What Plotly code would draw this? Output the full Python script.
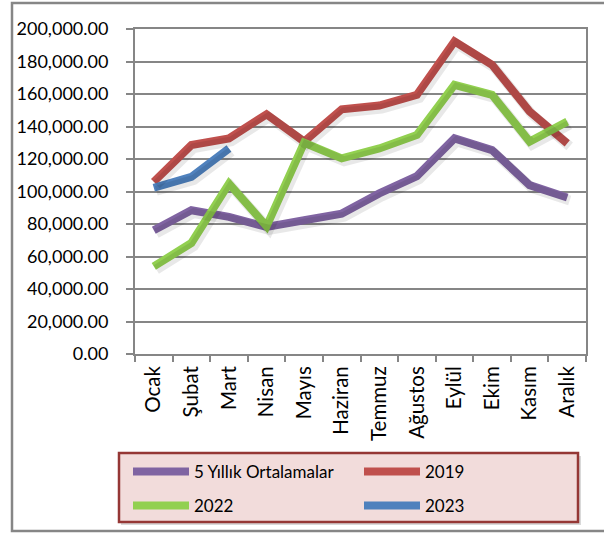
import plotly.graph_objects as go

months = ["Ocak", "Şubat", "Mart", "Nisan", "Mayıs", "Haziran", "Temmuz",
          "Ağustos", "Eylül", "Ekim", "Kasım", "Aralık"]
avg5 = [76100, 88500, 84400, 78200, 82300, 86400, 98800, 109500, 132700, 125500, 103900, 96300]
y2019 = [106000, 128600, 132700, 147500, 130700, 150600, 152900, 159500, 192400, 178000, 149200, 129600]
y2022 = [53900, 68300, 104900, 78600, 130000, 120400, 126500, 134800, 165600, 159500, 130700, 143000]
y2023 = [102300, 109000, 126500]
yticks = [0, 20000, 40000, 60000, 80000, 100000, 120000, 140000, 160000, 180000, 200000]

series = [
    ("5 Yıllık Ortalamalar", avg5, "#8064A2", "legend"),
    ("2019", y2019, "#C0504D", "legend"),
    ("2022", y2022, "#92D050", "legend2"),
    ("2023", y2023, "#4F81BD", "legend2"),
]

W, H = 604, 534
L, R, T, B = 135, 18, 29, 180
pw, ph = W - L - R, H - T - B

FONT = "Lato"
fig = go.Figure()

# soft drop shadows on an overlay axis pair shifted by a few pixels
dxu = 2.5 / (pw / 12)
dyu = 3.0 * 200000 / ph
for name, vals, col, lg in series:
    fig.add_trace(go.Scatter(x=months[:len(vals)], y=vals, mode="lines",
                             line=dict(color="rgba(0,0,0,0.09)", width=10),
                             xaxis="x2", yaxis="y2", showlegend=False, hoverinfo="skip"))
for name, vals, col, lg in series:
    fig.add_trace(go.Scatter(x=months[:len(vals)], y=vals, mode="lines", name=name,
                             line=dict(color=col, width=8), legend=lg))

axis_common = dict(showline=True, linecolor="#868686", linewidth=2, mirror=True,
                   ticks="outside", tickcolor="#868686", tickwidth=2)
leg_common = dict(orientation="h", xanchor="left", yanchor="top", bgcolor="rgba(0,0,0,0)",
                  entrywidth=160, itemwidth=56, font=dict(size=17, family=FONT),
                  tracegroupgap=0)
fig.update_layout(
    width=W, height=H, margin=dict(l=L, r=R, t=T, b=B, autoexpand=False),
    paper_bgcolor="white", plot_bgcolor="white",
    font=dict(family=FONT, size=18, color="black"),
    xaxis=dict(type="category", categoryorder="array", categoryarray=months,
               range=[-0.5, 11.5], tickson="boundaries", ticklen=6, tickangle=-90,
               showgrid=False, ticklabelstandoff=2, tickfont=dict(size=20.5), **axis_common),
    yaxis=dict(range=[0, 200000], tickvals=yticks, tickformat=",.2f", ticklen=7,
               showgrid=True, gridcolor="#868686", gridwidth=2, ticklabelstandoff=14,
               **axis_common),
    xaxis2=dict(type="category", categoryorder="array", categoryarray=months,
                range=[-0.5 - dxu, 11.5 - dxu], overlaying="x", visible=False),
    yaxis2=dict(range=[dyu, 200000 + dyu], overlaying="y", visible=False),
    legend=dict(x=(128 - L) / pw, y=(354 - 454) / ph, **leg_common),
    legend2=dict(x=(128 - L) / pw, y=(354 - 488) / ph, **leg_common),
    showlegend=True,
)

def px_x(p):
    return (p - L) / pw

def px_y(p):
    return (H - B - p) / ph

# outer chart border
fig.add_shape(type="rect", xref="paper", yref="paper",
              x0=px_x(12), x1=px_x(612), y0=px_y(531), y1=px_y(3),
              line=dict(color="#868686", width=2.5), fillcolor="rgba(0,0,0,0)", layer="below")
# legend box shadow + box
fig.add_shape(type="rect", xref="paper", yref="paper",
              x0=px_x(121), x1=px_x(581), y0=px_y(525), y1=px_y(456),
              line=dict(width=0), fillcolor="rgba(0,0,0,0.15)", layer="below")
fig.add_shape(type="rect", xref="paper", yref="paper",
              x0=px_x(119), x1=px_x(578), y0=px_y(522), y1=px_y(453),
              line=dict(color="#953735", width=2.5), fillcolor="#F2DCDB", layer="below")

fig.write_html("out.html", config={"displayModeBar": False},
               post_script="document.body.style.margin='0';document.body.style.overflow='hidden';")
